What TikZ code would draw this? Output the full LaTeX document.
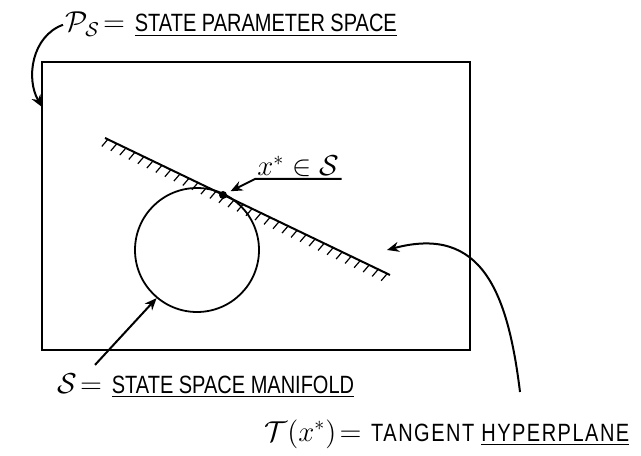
\documentclass[tikz,border=0pt]{standalone}
\usepackage{fontspec}
\usepackage{amssymb}
\newfontfamily\handfont[FakeStretch=0.8]{Liberation Sans}
\usetikzlibrary{arrows.meta, positioning, decorations.markings}

\begin{document}
\begin{tikzpicture}[
	x=0.5pt, y=0.5pt,
	>={Stealth[length=6pt,width=5pt]},
	font=\handfont\fontsize{12.5}{14}\selectfont,
	box/.style={
		draw,
		line width=1.3pt,
		minimum width=214pt,
		minimum height=144pt,
		inner sep=0pt
	},
	ball/.style={
		draw,
		circle,
		line width=0.9pt,
		minimum size=62pt,
		inner sep=0pt
	},
	dot/.style={
		circle,
		fill,
		minimum size=4pt,
		inner sep=0pt
	},
	tag/.style={
		inner sep=1pt,
		align=left
	},
	hatched/.style={
		line width=1pt,
		postaction={decorate, decoration={markings,
			mark=between positions 0.01 and 1 step 5pt with
			{\draw[line width=0.6pt] (0,0) -- (-1.2pt,-4.5pt);}}}
	},
	pointer/.style={
		->,
		line width=1pt
	}
	]

	\useasboundingbox (0,0) rectangle (641,455);

	%------------------------------------------------
	% PARAMETER SPACE AND MANIFOLD
	%------------------------------------------------

	\node[box] (space) at (256,249) {};

	\node[ball] (manifold) at (197,205) {};

	%------------------------------------------------
	% TANGENT HYPERPLANE
	%------------------------------------------------

	\coordinate (tl) at (105,317);
	\coordinate (tr) at (390,180);

	\draw[hatched] (tl) -- (tr);

	\node[dot] (xstar) at (223,260) {};

	\node[
	tag,
	anchor=south west
	] (xlabel) at (255,276) {\Large $x^{*}\in\mathcal{S}$};

	\draw[pointer, shorten >=2pt]
	(xlabel.south east)
	-- (xlabel.south west)
	-- (xstar);

	%------------------------------------------------
	% LABELS
	%------------------------------------------------

	\node[
	tag,
	anchor=base west
	] (plabel) at (63,423)
	{{\Large $\mathcal{P}_{\mathcal{S}}\!=$}\, \underline{STATE PARAMETER SPACE}};

	\node[
	tag,
	anchor=base west
	] (slabel) at (55,62)
	{{\Large $\mathcal{S}\!=$}\, \underline{STATE SPACE MANIFOLD}};

	\node[
	tag,
	anchor=base west
	] (tlabel) at (262,14)
	{{\Large $\mathcal{T}(x^{*})\!=$}\,
		{\addfontfeature{LetterSpace=6}TANGENT \underline{HYPERPLANE}}};

	%------------------------------------------------
	% POINTERS
	%------------------------------------------------

	\coordinate (pedge) at (42,348);
	\coordinate (tfoot) at (520,63);
	\coordinate (thit) at (387,205);

	\draw[pointer]
	(plabel.west)
	to[out=200, in=120] (pedge);

	\draw[pointer]
	([shift={(20pt,3pt)}]slabel.north west)
	-- (manifold.230);

	\draw[pointer]
	(tfoot)
	to[out=97, in=15, looseness=1.3] (thit);

\end{tikzpicture}
\end{document}
